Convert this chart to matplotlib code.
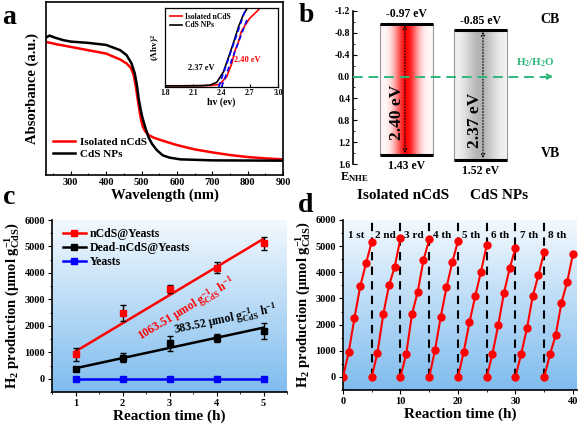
import numpy as np
import matplotlib
matplotlib.use('Agg')
import matplotlib.pyplot as plt
from matplotlib.colors import LinearSegmentedColormap
from matplotlib.ticker import MultipleLocator

plt.rcParams['font.family'] = ['Liberation Serif', 'DejaVu Serif']
plt.rcParams['font.weight'] = 'bold'
plt.rcParams['axes.labelweight'] = 'bold'
plt.rcParams['mathtext.fontset'] = 'custom'
plt.rcParams['mathtext.rm'] = 'Liberation Serif:bold'
plt.rcParams['mathtext.it'] = 'Liberation Serif:bold:italic'
plt.rcParams['mathtext.bf'] = 'Liberation Serif:bold'
plt.rcParams['axes.linewidth'] = 1.2

# ---------------- data: panel a (UV-vis) ----------------
wl_iso = [230, 260, 300, 350, 400, 440, 458, 470, 478, 484, 489, 494, 498, 503, 510, 520,
          535, 560, 600, 650, 700, 750, 800, 850, 900]
abs_iso = [4.00, 3.93, 3.85, 3.75, 3.65, 3.47, 3.35, 3.22, 3.00, 2.65, 2.30, 1.95, 1.70,
           1.47, 1.32, 1.20, 1.12, 1.03, 0.90, 0.77, 0.68, 0.60, 0.54, 0.50, 0.47]
wl_np = [230, 240, 255, 280, 300, 350, 400, 440, 458, 472, 481, 487, 492, 497, 502, 510,
         520, 530, 543, 560, 580, 610, 700, 900]
abs_np = [4.13, 4.19, 4.13, 4.05, 4.01, 3.97, 3.91, 3.75, 3.60, 3.35, 3.05, 2.70, 2.30,
          2.00, 1.75, 1.45, 1.13, 0.93, 0.75, 0.59, 0.52, 0.47, 0.44, 0.43]

# inset (Tauc plot)
hv_iso = [1.8, 2.0, 2.2, 2.3, 2.38, 2.455, 2.51, 2.54, 2.58, 2.61, 2.65, 2.70, 2.77, 2.84]
tauc_iso = [0.015, 0.015, 0.016, 0.02, 0.034, 0.13, 0.30, 0.45, 0.57, 0.70, 0.78, 0.87, 0.95, 1.04]
hv_np = [1.8, 2.0, 2.2, 2.28, 2.35, 2.42, 2.47, 2.53, 2.58, 2.63, 2.685]
tauc_np = [0.015, 0.015, 0.018, 0.025, 0.06, 0.19, 0.36, 0.57, 0.76, 0.91, 1.02]
gap_iso = 2.40
gap_np = 2.37

# ---------------- data: panel b (band positions, eV vs NHE) ----------------
cb_iso, vb_iso = -0.97, 1.43
cb_np, vb_np = -0.85, 1.52

# ---------------- data: panel c ----------------
time_c = [1, 2, 3, 4, 5]
ncds = [925, 2490, 3375, 4200, 5115]
ncds_err = [250, 300, 150, 200, 250]
dead = [368, 800, 1345, 1535, 1790]
dead_err = [80, 180, 280, 150, 300]
yeasts = [0, 0, 0, 0, 0]
rate_ncds, icpt_ncds = 1063.51, -30
rate_dead, icpt_dead = 383.52, 15

# ---------------- data: panel d ----------------
cycle_hours = [0, 1, 2, 3, 4, 5]
cycles = [
    [0, 958, 2260, 3470, 4340, 5170],
    [0, 930, 2390, 3500, 4210, 5310],
    [0, 890, 2400, 3260, 4470, 5260],
    [0, 1020, 2300, 3420, 4380, 5200],
    [0, 960, 2090, 3090, 4030, 5030],
    [0, 890, 1980, 3220, 4160, 4930],
    [0, 890, 1860, 3090, 3900, 4780],
    [0, 860, 1600, 2840, 3640, 4700],
]
cycle_labels = ['1 st', '2 nd', '3 rd', '4 th', '5 th', '6 th', '7 th', '8 th']

RED = '#ff0000'
BLUE = '#0000ff'
GREEN = '#2db87a'

W, H = 582, 425
fig = plt.figure(figsize=(W / 100, H / 100), dpi=100)


def rect(l, t, r, b):
    return [l / W, 1 - b / H, (r - l) / W, (b - t) / H]


bg_cmap = LinearSegmentedColormap.from_list('bg', ['#f3f9fe', '#7fbcee'])


def gradient_bg(ax):
    g = np.linspace(0, 1, 256).reshape(-1, 1)
    ax.imshow(g, cmap=bg_cmap, aspect='auto', extent=[0, 1, 0, 1],
              transform=ax.transAxes, zorder=0, interpolation='bicubic')


# ================= panel a =================
axa = fig.add_axes(rect(46, 2, 283, 175))
axa.plot(wl_iso, abs_iso, color=RED, lw=1.8, label='Isolated nCdS')
axa.plot(wl_np, abs_np, color='black', lw=1.8, label='CdS NPs')
axa.set_xlim(230, 900)
axa.set_ylim(0, 5.2)
axa.set_yticks([])
axa.xaxis.set_major_locator(MultipleLocator(100))
axa.xaxis.set_minor_locator(MultipleLocator(50))
axa.tick_params(axis='x', direction='in', labelsize=7.5, length=3, pad=2)
axa.tick_params(axis='x', which='minor', direction='in', length=1.5)
axa.set_xlabel('Wavelength (nm)', fontsize=10.5, labelpad=1)
axa.set_ylabel('Absorbance (a.u.)', fontsize=10.5, labelpad=5)
axa.legend(loc='lower left', bbox_to_anchor=(0.0, 0.055), frameon=False, fontsize=8,
           handlelength=2.0, handletextpad=0.5, labelspacing=0.2, borderaxespad=0.2)

# inset
axi = fig.add_axes(rect(165, 8, 278, 87))
axi.plot(hv_iso, tauc_iso, color=RED, lw=1.2, label='Isolated nCdS')
axi.plot(hv_np, tauc_np, color='black', lw=1.2, label='CdS NPs')
axi.plot([gap_np, 2.66], [0, 1.0], color=BLUE, lw=1.2, ls=(0, (3, 2)))
axi.plot([gap_iso, 2.67], [0, 0.85], color=BLUE, lw=1.2, ls=(0, (3, 2)))
axi.set_xlim(1.8, 3.0)
axi.set_ylim(0, 1.0)
axi.set_yticks([])
axi.set_xticks([1.8, 2.1, 2.4, 2.7, 3.0])
axi.tick_params(axis='x', direction='in', labelsize=5.5, length=2, pad=1.5)
axi.set_xlabel('hv (ev)', fontsize=7, labelpad=0)
axi.set_ylabel('(Ahv)$^2$', fontsize=6.5, labelpad=2)
axi.text(2.19, 0.24, '%.2f eV' % gap_np, fontsize=6, ha='center', va='center', color='black')
axi.text(2.67, 0.34, '%.2f eV' % gap_iso, fontsize=6, ha='center', va='center', color=RED)
for s in axi.spines.values():
    s.set_linewidth(0.9)
axi.legend(loc='upper left', frameon=False, fontsize=5.5, handlelength=1.6,
           handletextpad=0.4, labelspacing=0.1, borderaxespad=0.2)

# ================= panel b =================
axb = fig.add_axes(rect(353, 11, 565, 164))
axb.set_xlim(0, 212)
axb.set_ylim(1.6, -1.2)
for k in ['top', 'right', 'bottom']:
    axb.spines[k].set_visible(False)
axb.set_xticks([])
axb.yaxis.set_minor_locator(MultipleLocator(0.2))
axb.set_yticks([-1.2, -0.8, -0.4, 0.0, 0.4, 0.8, 1.2, 1.6])
axb.set_yticklabels(['-1.2', '-0.8', '-0.4', '0.0', '0.4', '0.8', '1.2', '1.6'])
axb.tick_params(axis='y', direction='in', labelsize=7, length=3, pad=2)
axb.tick_params(axis='y', which='minor', direction='in', length=1.5)

t = np.linspace(0, 1, 200)
red_int = np.exp(-((t - 0.5) / 0.22) ** 2)
red_img = np.ones((1, 200, 3))
red_img[0, :, 1] = np.minimum(1 - 0.97 * red_int, 0.97)
red_img[0, :, 2] = np.minimum(1 - 0.97 * red_int, 0.97)
gray_val = 0.96 - 0.26 * np.exp(-((t - 0.5) / 0.28) ** 2)
gray_img = np.stack([gray_val, gray_val, gray_val], axis=-1)[None, :, :]

boxes = [(27, 80, cb_iso, vb_iso, red_img), (101, 154, cb_np, vb_np, gray_img)]
for x0, x1, cb, vb, img in boxes:
    axb.imshow(img, aspect='auto', extent=[x0, x1, vb, cb], zorder=1, interpolation='bilinear')
    axb.plot([x0, x0], [cb, vb], color='#9a9a9a', lw=0.8, zorder=2)
    axb.plot([x1, x1], [cb, vb], color='#9a9a9a', lw=0.8, zorder=2)
    axb.plot([x0, x1], [cb, cb], color='black', lw=2.2, zorder=3, solid_capstyle='butt')
    axb.plot([x0, x1], [vb, vb], color='black', lw=2.2, zorder=3, solid_capstyle='butt')
    axb.text((x0 + x1) / 2, cb - 0.17, '%.2f eV' % cb, fontsize=8.5, ha='center', va='center')
    axb.text((x0 + x1) / 2, vb + 0.2, '%.2f eV' % vb, fontsize=8.5, ha='center', va='center',
             clip_on=False)

axb.annotate('', xy=(52, cb_iso + 0.03), xytext=(52, vb_iso - 0.03),
             arrowprops=dict(arrowstyle='<->', ls=':', lw=0.8, color='black',
                             shrinkA=0, shrinkB=0, mutation_scale=6), zorder=4)
axb.annotate('', xy=(130, cb_np + 0.03), xytext=(130, vb_np - 0.03),
             arrowprops=dict(arrowstyle='<->', ls=':', lw=0.8, color='black',
                             shrinkA=0, shrinkB=0, mutation_scale=6), zorder=4)
axb.text(44, 0.66, '%.2f eV' % (vb_iso - cb_iso), rotation=90, fontsize=12.5,
         ha='center', va='center', zorder=5)
axb.text(122, 0.80, '%.2f eV' % (vb_np - cb_np), rotation=90, fontsize=12.5,
         ha='center', va='center', zorder=5)

axb.plot([0, 198], [0, 0], color=GREEN, lw=1.4, ls=(0, (5, 3)), zorder=6)
axb.annotate('', xy=(203, 0), xytext=(193, 0),
             arrowprops=dict(arrowstyle='->', color=GREEN, lw=1.4, mutation_scale=8), zorder=6)
axb.text(182, -0.25, 'H$_2$/H$_2$O', color=GREEN, fontsize=8, ha='center', va='center')
axb.text(197, -1.04, 'CB', fontsize=10, ha='center', va='center')
axb.text(197, 1.40, 'VB', fontsize=10, ha='center', va='center')
axb.text(1, 1.84, 'E$_{\\mathrm{NHE}}$', fontsize=9, ha='center', va='center', clip_on=False)
axb.text(50, 2.17, 'Isolated nCdS', fontsize=11, ha='center', va='center', clip_on=False)
axb.text(146, 2.17, 'CdS NPs', fontsize=11, ha='center', va='center', clip_on=False)

# ================= panel c =================
axc = fig.add_axes(rect(52, 220, 287, 392))
gradient_bg(axc)
for k in ['top', 'right']:
    axc.spines[k].set_visible(False)
tc = np.array(time_c)
axc.plot(tc, rate_ncds * tc + icpt_ncds, color=RED, lw=1.8, zorder=3)
axc.plot(tc, rate_dead * tc + icpt_dead, color='black', lw=1.8, zorder=3)
axc.errorbar(time_c, ncds, yerr=ncds_err, fmt='s', color=RED, ms=5, ecolor='black',
             elinewidth=1, capsize=2.5, capthick=1, zorder=4)
axc.errorbar(time_c, dead, yerr=dead_err, fmt='s', color='black', ms=5, ecolor='black',
             elinewidth=1, capsize=2.5, capthick=1, zorder=4)
axc.plot(time_c, yeasts, color=BLUE, lw=1.8, marker='s', ms=5, zorder=4)
h1, = axc.plot([], [], color=RED, lw=1.8, marker='s', ms=5, label='nCdS@Yeasts')
h2, = axc.plot([], [], color='black', lw=1.8, marker='s', ms=5, label='Dead-nCdS@Yeasts')
h3, = axc.plot([], [], color=BLUE, lw=1.8, marker='s', ms=5, label='Yeasts')
axc.legend(handles=[h1, h2, h3], loc='upper left', bbox_to_anchor=(0.01, 1.0), frameon=False,
           fontsize=8.5, handlelength=2.0, handletextpad=0.3, labelspacing=0.15,
           borderaxespad=0.3)
axc.set_xlim(0.5, 5.5)
axc.set_ylim(-500, 6000)
axc.xaxis.set_major_locator(MultipleLocator(1))
axc.xaxis.set_minor_locator(MultipleLocator(0.5))
axc.yaxis.set_major_locator(MultipleLocator(1000))
axc.yaxis.set_minor_locator(MultipleLocator(500))
axc.tick_params(direction='out', labelsize=7.5, length=3, pad=2)
axc.tick_params(which='minor', direction='out', length=1.5)
axc.set_xlabel('Reaction time (h)', fontsize=11, labelpad=1)
axc.set_ylabel('H$_2$ production (μmol g$^{-1}_{\\mathrm{CdS}}$)', fontsize=10.5, labelpad=2)
axc.text(3.38, 2600, '%.2f μmol g$^{-1}_{\\mathrm{CdS}}$ h$^{-1}$' % rate_ncds, color=RED,
         fontsize=8.5, rotation=31, ha='center', va='center', zorder=5)
axc.text(4.2, 2200, '%.2f μmol g$^{-1}_{\\mathrm{CdS}}$ h$^{-1}$' % rate_dead, color='black',
         fontsize=8.5, rotation=12, ha='center', va='center', zorder=5)

# ================= panel d =================
axd = fig.add_axes(rect(343, 220, 577, 390))
gradient_bg(axd)
for k in ['top', 'right']:
    axd.spines[k].set_visible(False)
for i, vals in enumerate(cycles):
    hrs = [5 * i + h for h in cycle_hours]
    axd.plot(hrs, vals, color=RED, lw=1.5, marker='o', ms=5, zorder=4)
    axd.text(5 * i + 2.3, 5420, cycle_labels[i], fontsize=8, ha='center', va='center', zorder=5)
    if i > 0:
        axd.plot([5 * i, 5 * i], [0, 6000], color='black', lw=1.5, ls=(0, (4, 3)), zorder=3)
axd.set_xlim(0, 40.7)
axd.set_ylim(-500, 6000)
axd.xaxis.set_major_locator(MultipleLocator(10))
axd.xaxis.set_minor_locator(MultipleLocator(5))
axd.yaxis.set_major_locator(MultipleLocator(1000))
axd.yaxis.set_minor_locator(MultipleLocator(500))
axd.tick_params(direction='out', labelsize=7.5, length=3, pad=2)
axd.tick_params(which='minor', direction='out', length=1.5)
axd.set_xlabel('Reaction time (h)', fontsize=11, labelpad=1)
axd.set_ylabel('H$_2$ production (μmol g$^{-1}_{\\mathrm{CdS}}$)', fontsize=10.5, labelpad=2)

# panel letters
for lab, x, y in [('a', 9, 17), ('b', 306, 15), ('c', 9, 198), ('d', 306, 205)]:
    fig.text(x / W, 1 - y / H, lab, fontsize=20, fontweight='bold', ha='center', va='center')

fig.savefig('out.png', dpi=100)
